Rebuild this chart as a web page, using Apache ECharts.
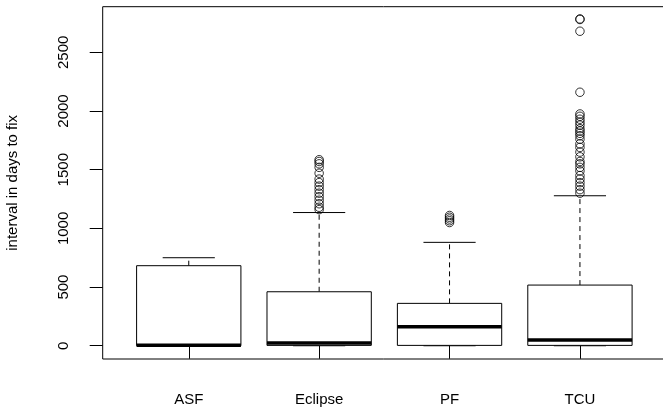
<!DOCTYPE html>
<html><head><meta charset="utf-8">
<script src="https://cdn.jsdelivr.net/npm/echarts@6/dist/echarts.min.js"></script>
<style>html,body{margin:0;padding:0;background:#fff}#c{width:663px;height:410px}</style>
</head><body><div id="c"></div>
<script>
const categories = ['ASF', 'Eclipse', 'PF', 'TCU'];
const whiskerLow = [0, 0, 0, 0];
const q1 = [0, 3, 3, 3];
const median = [5, 23, 162, 49];
const q3 = [682, 460, 361, 517];
const whiskerHigh = [750, 1135, 881, 1278];
const outliersASF = [];
const outliersEclipse = [1585, 1570, 1550, 1520, 1470, 1420, 1390, 1360, 1330, 1300, 1270, 1240, 1210, 1180, 1160];
const outliersPF = [1110, 1095, 1080, 1065, 1050];
const outliersTCU = [2785, 2780, 2680, 2160, 1975, 1955, 1930, 1905, 1880, 1850, 1830, 1810, 1790, 1760, 1720, 1690, 1650, 1610, 1570, 1550, 1520, 1490, 1450, 1420, 1390, 1360, 1330, 1300];
const yTicks = [0, 500, 1000, 1500, 2000, 2500];
const yTitle = 'interval in days to fix';

const outlierGroups = [outliersASF, outliersEclipse, outliersPF, outliersTCU];
const boxData = categories.map((c, i) => [i + 1, whiskerLow[i], q1[i], median[i], q3[i], whiskerHigh[i]]);
const outlierData = [];
outlierGroups.forEach((g, i) => g.forEach(v => outlierData.push([i + 1, v])));

const chart = echarts.init(document.getElementById('c'));
const FONT = 'Liberation Sans, Arial, sans-serif';
chart.setOption({
  animation: false,
  grid: { left: 102.7, top: 6.7, width: 563.3, height: 352.3, show: true, borderColor: '#000', borderWidth: 1, backgroundColor: 'transparent', containLabel: false, outerBoundsMode: 'none' },
  xAxis: {
    type: 'value', min: 0.34, max: 4.66,
    splitLine: { show: false },
    axisLine: { show: false },
    axisTick: { show: true, length: 13, inside: false, customValues: [1, 2, 3, 4], lineStyle: { color: '#000', width: 1 } },
    axisLabel: { show: true, customValues: [1, 2, 3, 4], formatter: v => categories[Math.round(v) - 1] || '', margin: 33, fontFamily: FONT, fontSize: 15, color: '#000' }
  },
  yAxis: {
    type: 'value', min: -113, max: 2889,
    name: yTitle, nameLocation: 'middle', nameGap: 82, nameRotate: 90,
    nameTextStyle: { fontFamily: FONT, fontSize: 15, color: '#000' },
    splitLine: { show: false },
    axisLine: { show: false },
    axisTick: { show: true, length: 13, customValues: yTicks, lineStyle: { color: '#000', width: 1 } },
    axisLabel: { show: true, customValues: yTicks, formatter: v => String(v), rotate: 90, margin: 31, fontFamily: FONT, fontSize: 15, color: '#000' }
  },
  series: [
    {
      type: 'custom',
      data: boxData,
      encode: { x: 0, y: [1, 2, 3, 4, 5] },
      renderItem: function (params, api) {
        const x = api.value(0);
        const halfW = api.size([0.8, 0])[0] / 2;
        const capW = halfW / 2;
        const pLow = api.coord([x, api.value(1)]);
        const pQ1 = api.coord([x, api.value(2)]);
        const pMed = api.coord([x, api.value(3)]);
        const pQ3 = api.coord([x, api.value(4)]);
        const pHigh = api.coord([x, api.value(5)]);
        const cx = pMed[0];
        const dash = { stroke: '#000', lineWidth: 1, lineDash: [5, 4] };
        const solid = { stroke: '#000', lineWidth: 1 };
        return {
          type: 'group',
          children: [
            { type: 'line', shape: { x1: cx, y1: pQ3[1], x2: cx, y2: pHigh[1] }, style: dash },
            { type: 'line', shape: { x1: cx, y1: pQ1[1], x2: cx, y2: pLow[1] }, style: dash },
            { type: 'line', shape: { x1: cx - capW, y1: pHigh[1], x2: cx + capW, y2: pHigh[1] }, style: solid },
            { type: 'line', shape: { x1: cx - capW, y1: pLow[1], x2: cx + capW, y2: pLow[1] }, style: solid },
            { type: 'rect', shape: { x: cx - halfW, y: pQ3[1], width: 2 * halfW, height: pQ1[1] - pQ3[1] }, style: { fill: '#fff', stroke: '#000', lineWidth: 1 } },
            { type: 'line', shape: { x1: cx - halfW, y1: pMed[1], x2: cx + halfW, y2: pMed[1] }, style: { stroke: '#000', lineWidth: 3.5 } }
          ]
        };
      }
    },
    {
      type: 'scatter',
      data: outlierData,
      symbol: 'circle',
      symbolSize: 8.5,
      itemStyle: { color: 'none', borderColor: '#000', borderWidth: 1 },
      z: 3
    }
  ]
});
</script>
</body></html>
